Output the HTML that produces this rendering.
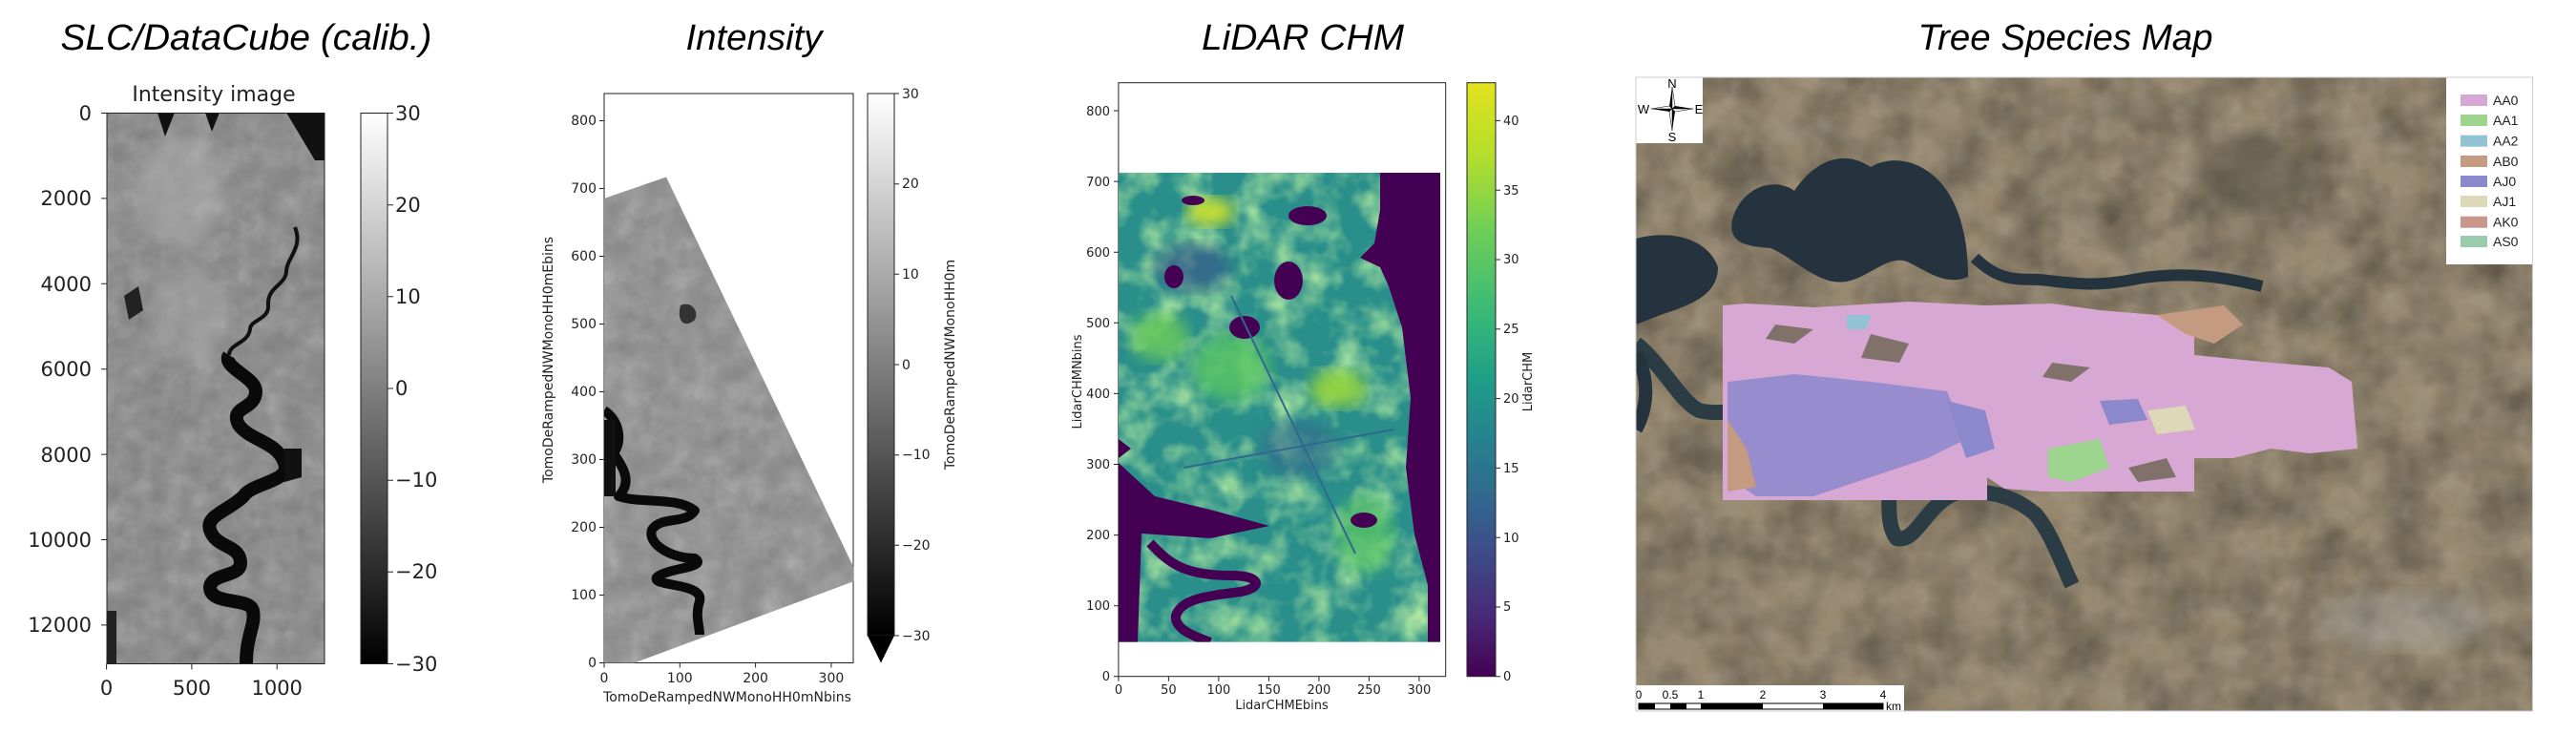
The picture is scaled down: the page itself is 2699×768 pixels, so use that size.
<!DOCTYPE html>
<html><head><meta charset="utf-8"><style>
html,body{margin:0;padding:0;background:#fff;}
svg{display:block;}
.t{font-family:"Liberation Sans Narrow","Liberation Sans",sans-serif;font-style:italic;}
.k{font-family:"DejaVu Sans","Liberation Sans",sans-serif;fill:#222;}
</style></head><body>
<svg width="2699" height="768" viewBox="0 0 2699 768" xmlns="http://www.w3.org/2000/svg">
<defs>
<linearGradient id="gray" x1="0" y1="1" x2="0" y2="0"><stop offset="0" stop-color="#000"/><stop offset="1" stop-color="#fff"/></linearGradient>
<linearGradient id="vir" x1="0" y1="1" x2="0" y2="0">
<stop offset="0" stop-color="#440154"/><stop offset=".1" stop-color="#482878"/><stop offset=".2" stop-color="#3e4989"/><stop offset=".3" stop-color="#31688e"/><stop offset=".4" stop-color="#26828e"/><stop offset=".5" stop-color="#1f9e89"/><stop offset=".6" stop-color="#35b779"/><stop offset=".75" stop-color="#6ece58"/><stop offset=".88" stop-color="#b5de2b"/><stop offset="1" stop-color="#e2e21e"/></linearGradient>
<filter id="n1" x="0" y="0" width="100%" height="100%"><feTurbulence type="fractalNoise" baseFrequency="0.04" numOctaves="3" seed="3"/><feColorMatrix type="saturate" values="0"/><feComponentTransfer><feFuncA type="linear" slope="0.5"/></feComponentTransfer></filter>
<filter id="n2" x="0" y="0" width="100%" height="100%"><feTurbulence type="fractalNoise" baseFrequency="0.02" numOctaves="3" seed="7"/><feColorMatrix type="matrix" values="0 0 0 0 0.1  0 0 0 0 0.08  0 0 0 0 0.05  0 0 0 -1.6 1.1"/></filter>
<filter id="n3" x="0" y="0" width="100%" height="100%"><feTurbulence type="fractalNoise" baseFrequency="0.03" numOctaves="3" seed="11"/><feColorMatrix type="matrix" values="0 0 0 0 0.42  0 0 0 0 0.8  0 0 0 0 0.35  0 0 0 -2 1.2"/></filter>
<filter id="bl"><feGaussianBlur stdDeviation="8"/></filter>
<clipPath id="c1"><rect x="112" y="118.5" width="228" height="577"/></clipPath>
<clipPath id="c2"><polygon points="633,208 698,185.5 894.7,595 894.7,609 664.7,694.5 633,694.5"/></clipPath>
<clipPath id="c3"><rect x="1172" y="181" width="337" height="491.6"/></clipPath>
<clipPath id="c4"><rect x="1714" y="81" width="939.5" height="664"/></clipPath>
</defs>

<text class="t" x="258" y="52" font-size="38" text-anchor="middle" textLength="389" lengthAdjust="spacingAndGlyphs">SLC/DataCube (calib.)</text>
<text class="t" x="790" y="52" font-size="38" text-anchor="middle" textLength="143" lengthAdjust="spacingAndGlyphs">Intensity</text>
<text x="1365" y="52" font-size="38" font-style="italic" font-family="Liberation Sans,sans-serif" text-anchor="middle" textLength="212" lengthAdjust="spacingAndGlyphs">LiDAR CHM</text>
<text class="t" x="2164" y="52" font-size="38" text-anchor="middle" textLength="309" lengthAdjust="spacingAndGlyphs">Tree Species Map</text>

<!-- Panel 1 -->
<text class="k" x="224" y="106" font-size="22" text-anchor="middle">Intensity image</text>
<g clip-path="url(#c1)">
<rect x="112" y="118.5" width="228" height="577" fill="#808080"/>
<rect x="112" y="118.5" width="228" height="577" filter="url(#n1)"/>
<ellipse cx="190" cy="200" rx="45" ry="60" fill="#b0b0b0" opacity=".5" filter="url(#bl)"/>
<ellipse cx="200" cy="330" rx="40" ry="50" fill="#a8a8a8" opacity=".5" filter="url(#bl)"/>
<path d="M165,118 l8,25 l10,-25z M215,118 l7,20 l8,-20z M300,118 l30,50 l10,0 l0,-50z" fill="#111"/>
<path d="M130,310 l15,-10 l5,25 l-15,10z" fill="#222"/>
<path d="M309,238 C318,260 300,270 300,285 C298,300 280,300 281,320 C282,335 262,335 262,345 C260,360 240,360 240,372" fill="none" stroke="#111" stroke-width="4"/>
<path d="M240,372 C232,385 268,395 268,410 C268,430 240,425 250,445 C262,462 290,462 298,485 C306,505 265,505 255,520 C240,535 215,540 220,555 C226,575 252,570 252,590 C252,605 222,600 220,615 C220,635 262,625 265,640 C268,655 258,665 258,695" fill="none" stroke="#0a0a0a" stroke-width="14" stroke-linejoin="round"/>
<path d="M298,470 l18,0 l0,30 l-18,5z" fill="#111"/>
<path d="M112,640 l10,0 l0,55 l-10,0z" fill="#222"/>
</g>
<rect x="112" y="118.5" width="228" height="577" fill="none" stroke="#222" stroke-width="1"/>
<g class="k" font-size="21" text-anchor="end">
<text x="96" y="126">0</text><text x="96" y="215">2000</text><text x="96" y="305">4000</text><text x="96" y="394">6000</text><text x="96" y="484">8000</text><text x="96" y="573">10000</text><text x="96" y="662">12000</text>
</g>
<g stroke="#222"><path d="M112,118.5h-6M112,207.9h-6M112,297.3h-6M112,386.7h-6M112,476.1h-6M112,565.5h-6M112,654.9h-6M111.6,695.5v6M200.9,695.5v6M290.2,695.5v6"/></g>
<g class="k" font-size="21" text-anchor="middle"><text x="111.6" y="728">0</text><text x="200.9" y="728">500</text><text x="290.2" y="728">1000</text></g>
<rect x="378" y="118.5" width="28" height="577" fill="url(#gray)" stroke="#222"/>
<g stroke="#222"><path d="M406,118.5h6M406,214.7h6M406,310.8h6M406,407h6M406,503.2h6M406,599.3h6M406,695.5h6"/></g>
<g class="k" font-size="21"><text x="414" y="126">30</text><text x="414" y="222">20</text><text x="414" y="318">10</text><text x="414" y="414">0</text><text x="414" y="510">−10</text><text x="414" y="606">−20</text><text x="414" y="703">−30</text></g>

<!-- Panel 2 -->
<rect x="633" y="98" width="261" height="596.5" fill="#fff" stroke="#222"/>
<g clip-path="url(#c2)">
<rect x="633" y="180" width="262" height="515" fill="#888"/>
<rect x="633" y="180" width="262" height="515" filter="url(#n1)"/>
<path d="M713,320 c10,-5 20,5 15,15 c-8,8 -20,5 -15,-15z" fill="#333"/>
<path d="M633,430 c15,10 20,30 10,45 c10,15 20,30 5,45 c25,8 60,0 80,15 c-10,15 -35,5 -45,20 c-5,15 20,30 45,30 c15,10 -30,10 -40,20 c-5,10 50,5 45,25 c-5,15 0,25 0,35" fill="none" stroke="#0a0a0a" stroke-width="10" stroke-linejoin="round"/>
<path d="M633,440 l12,0 l0,80 l-12,0z" fill="#111"/>
</g>
<g stroke="#222"><path d="M633,694.5h-5M633,623.5h-5M633,552.5h-5M633,481.5h-5M633,410.5h-5M633,339.5h-5M633,268.5h-5M633,197.5h-5M633,126.5h-5M633,694.5v5M712.3,694.5v5M791.6,694.5v5M870.9,694.5v5"/></g>
<g class="k" font-size="14" text-anchor="end"><text x="625" y="699">0</text><text x="625" y="628">100</text><text x="625" y="557">200</text><text x="625" y="486">300</text><text x="625" y="415">400</text><text x="625" y="344">500</text><text x="625" y="273">600</text><text x="625" y="202">700</text><text x="625" y="131">800</text></g>
<g class="k" font-size="14" text-anchor="middle"><text x="633" y="715">0</text><text x="712.3" y="715">100</text><text x="791.6" y="715">200</text><text x="870.9" y="715">300</text></g>
<text class="k" x="762" y="735" font-size="14" text-anchor="middle">TomoDeRampedNWMonoHH0mNbins</text>
<text class="k" font-size="14" text-anchor="middle" transform="translate(579,377) rotate(-90)">TomoDeRampedNWMonoHH0mEbins</text>
<rect x="909" y="98" width="28" height="568" fill="url(#gray)" stroke="#222"/>
<polygon points="909,666 937,666 923,694.5" fill="#000"/>
<g stroke="#222"><path d="M937,98h5M937,192.7h5M937,287.3h5M937,382h5M937,476.7h5M937,571.3h5M937,666h5"/></g>
<g class="k" font-size="14"><text x="945" y="103">30</text><text x="945" y="197">20</text><text x="945" y="292">10</text><text x="945" y="387">0</text><text x="945" y="481">−10</text><text x="945" y="576">−20</text><text x="945" y="671">−30</text></g>
<text class="k" font-size="14" text-anchor="middle" transform="translate(1000,382) rotate(-90)">TomoDeRampedNWMonoHH0m</text>

<!-- Panel 3 -->
<rect x="1171.9" y="86.7" width="342.8" height="622" fill="#fff" stroke="#222"/>
<g clip-path="url(#c3)">
<rect x="1172" y="181" width="337" height="492" fill="#2a8f8a"/>
<rect x="1172" y="181" width="337" height="492" filter="url(#n3)"/>
<ellipse cx="1268" cy="222" rx="25" ry="15" fill="#c8e030" filter="url(#bl)"/>
<ellipse cx="1215" cy="353" rx="30" ry="25" fill="#6ece58" opacity=".8" filter="url(#bl)"/>
<ellipse cx="1290" cy="385" rx="40" ry="35" fill="#5cc863" opacity=".8" filter="url(#bl)"/>
<ellipse cx="1402" cy="407" rx="30" ry="20" fill="#9ad83c" opacity=".9" filter="url(#bl)"/>
<ellipse cx="1430" cy="560" rx="30" ry="40" fill="#5cc863" opacity=".7" filter="url(#bl)"/>
<ellipse cx="1360" cy="470" rx="40" ry="30" fill="#31688e" opacity=".6" filter="url(#bl)"/>
<ellipse cx="1250" cy="280" rx="40" ry="25" fill="#3e4989" opacity=".5" filter="url(#bl)"/>
<ellipse cx="1304" cy="343" rx="16" ry="12" fill="#440154"/>
<ellipse cx="1350" cy="294" rx="15" ry="20" fill="#440154"/>
<ellipse cx="1429" cy="545" rx="14" ry="8" fill="#440154"/>
<ellipse cx="1250" cy="210" rx="12" ry="5" fill="#440154"/>
<ellipse cx="1370" cy="226" rx="20" ry="10" fill="#440154"/>
<ellipse cx="1230" cy="290" rx="10" ry="12" fill="#440154"/>
<polygon points="1446,181 1509,181 1509,673 1496,673 1496,613 1482,560 1473,490 1478,417 1469,343 1455,300 1446,280 1425,270 1440,255 1446,220" fill="#440154"/>
<polygon points="1172,460 1185,470 1172,480" fill="#440154"/>
<polygon points="1172,485 1210,520 1268,534 1330,551 1268,564 1196,559 1192,673 1172,673" fill="#440154"/>
<path d="M1205,569 C1225,590 1240,603 1290,603 C1320,603 1325,615 1300,620 C1260,625 1238,628 1232,645 C1230,660 1255,668 1268,673" fill="none" stroke="#440154" stroke-width="10"/>
<line x1="1240" y1="490" x2="1460" y2="450" stroke="#31688e" stroke-width="2"/>
<line x1="1290" y1="310" x2="1420" y2="580" stroke="#31688e" stroke-width="2"/>
</g>
<g stroke="#222"><path d="M1172,708.8h-5M1172,634.7h-5M1172,560.6h-5M1172,486.5h-5M1172,412.4h-5M1172,338.3h-5M1172,264.2h-5M1172,190.1h-5M1172,116h-5M1171.9,708.8v5M1224.4,708.8v5M1276.9,708.8v5M1329.4,708.8v5M1381.9,708.8v5M1434.4,708.8v5M1486.9,708.8v5"/></g>
<g class="k" font-size="13" text-anchor="end"><text x="1163" y="713">0</text><text x="1163" y="639">100</text><text x="1163" y="565">200</text><text x="1163" y="491">300</text><text x="1163" y="417">400</text><text x="1163" y="343">500</text><text x="1163" y="269">600</text><text x="1163" y="195">700</text><text x="1163" y="121">800</text></g>
<g class="k" font-size="13" text-anchor="middle"><text x="1172" y="727">0</text><text x="1224.4" y="727">50</text><text x="1276.9" y="727">100</text><text x="1329.4" y="727">150</text><text x="1381.9" y="727">200</text><text x="1434.4" y="727">250</text><text x="1486.9" y="727">300</text></g>
<text class="k" x="1343" y="743" font-size="13" text-anchor="middle">LidarCHMEbins</text>
<text class="k" font-size="13" text-anchor="middle" transform="translate(1133,400) rotate(-90)">LidarCHMNbins</text>
<rect x="1537" y="86.7" width="30" height="622" fill="url(#vir)" stroke="#222"/>
<g stroke="#222"><path d="M1567,708.8h5M1567,636h5M1567,563.2h5M1567,490.4h5M1567,417.6h5M1567,344.8h5M1567,272h5M1567,199.2h5M1567,126.4h5"/></g>
<g class="k" font-size="13"><text x="1575" y="713">0</text><text x="1575" y="640">5</text><text x="1575" y="568">10</text><text x="1575" y="495">15</text><text x="1575" y="422">20</text><text x="1575" y="349">25</text><text x="1575" y="276">30</text><text x="1575" y="204">35</text><text x="1575" y="131">40</text></g>
<text class="k" font-size="13" text-anchor="middle" transform="translate(1605,400) rotate(-90)">LidarCHM</text>

<!-- Panel 4 -->
<g clip-path="url(#c4)">
<rect x="1714" y="81" width="940" height="664" fill="#948469"/>
<rect x="1714" y="81" width="940" height="664" filter="url(#n2)"/>
<rect x="1714" y="81" width="940" height="664" filter="url(#n1)" opacity=".5"/>
<path d="M1815,230 C1825,195 1860,185 1880,200 C1900,170 1930,155 1960,175 C1985,160 2020,170 2040,200 C2060,230 2062,270 2062,290 C2040,300 2020,285 2000,275 C1980,265 1960,290 1935,295 C1905,300 1880,270 1855,260 C1830,258 1810,255 1815,230z" fill="#25333f"/>
<path d="M1714,250 C1750,240 1790,250 1800,280 C1800,310 1770,320 1740,330 L1714,340z" fill="#25333f"/>
<path d="M2069,270 C2100,300 2120,290 2146,294 C2180,298 2200,300 2240,292 C2290,284 2330,290 2370,300" fill="none" stroke="#25333f" stroke-width="12"/>
<path d="M1714,360 C1740,380 1760,420 1780,430 C1820,440 1860,410 1891,431 C1930,460 1920,480 1967,490 C1990,500 1970,540 1987,564 C2010,570 2020,520 2057,515 C2090,515 2110,520 2133,539 C2150,560 2160,590 2171,613" fill="none" stroke="#2c3c44" stroke-width="16" stroke-linejoin="round"/>
<path d="M1714,370 C1730,400 1725,430 1714,450" fill="none" stroke="#25333f" stroke-width="14"/>
<ellipse cx="2360" cy="180" rx="60" ry="40" fill="#3a3a30" opacity=".4" filter="url(#bl)"/>
<ellipse cx="2520" cy="650" rx="90" ry="30" fill="#b0b0b0" opacity=".35" filter="url(#bl)"/>
<path d="M1805,320 L1830,318 L1900,322 L2000,316 L2080,320 L2150,318 L2200,325 L2260,330 L2299,340 L2299,372 L2380,380 L2440,385 L2464,400 L2470,470 L2420,475 L2380,470 L2340,480 L2299,480 L2299,515 L2200,515 L2140,515 L2100,512 L2082,500 L2082,524 L1805,524 Z" fill="#d8a8d4"/>
<path d="M1810,400 L1880,392 L1960,400 L2040,410 L2060,460 L2020,480 L1960,500 L1900,520 L1840,520 L1810,500Z" fill="#8c88cc" opacity=".85"/>
<path d="M2040,420 L2080,430 L2090,470 L2060,480Z" fill="#8c88cc"/>
<path d="M2200,420 L2240,418 L2250,440 L2210,445Z" fill="#8c88cc"/>
<path d="M1810,440 L1830,470 L1840,510 L1810,515Z" fill="#c49a80"/>
<path d="M2260,330 L2330,320 L2350,340 L2320,360 L2290,350Z" fill="#c49a80"/>
<path d="M2146,470 L2200,460 L2210,490 L2170,505 L2146,500Z" fill="#9ed58e"/>
<path d="M2250,430 L2290,425 L2300,450 L2260,455Z" fill="#dcd8b8"/>
<path d="M1935,330 L1960,330 L1955,345 L1935,345Z" fill="#90c4d4"/>
<path d="M1860,340 L1900,345 L1880,360 L1850,355Z" fill="#6c6350" opacity=".8"/>
<path d="M1960,350 L2000,360 L1990,380 L1950,375Z" fill="#6c6350" opacity=".8"/>
<path d="M2150,380 L2190,385 L2170,400 L2140,395Z" fill="#6c6350" opacity=".8"/>
<path d="M2230,490 L2270,480 L2280,500 L2240,505Z" fill="#6c6350" opacity=".8"/>
<rect x="1714" y="81" width="70" height="69" fill="#fff"/>
<path d="M1752,91 L1755,111 L1774,114 L1755,117 L1752,137 L1749,117 L1730,114 L1749,111Z" fill="#000"/>
<path d="M1752,91 L1755,111 L1752,114Z M1774,114 L1755,117 L1752,114Z M1752,137 L1749,117 L1752,114Z M1730,114 L1749,111 L1752,114Z" fill="#fff" stroke="#000" stroke-width=".5"/>
<g font-family="Liberation Sans Narrow,Liberation Sans,sans-serif" font-size="13" text-anchor="middle"><text x="1752" y="92">N</text><text x="1752" y="148">S</text><text x="1722" y="119">W</text><text x="1780" y="119">E</text></g>
<rect x="2563" y="81" width="91" height="196" fill="#fff"/>
<g><rect x="2578" y="99" width="28" height="12" fill="#d8a8d4"/><rect x="2578" y="120" width="28" height="12" fill="#9ed58e"/><rect x="2578" y="141.7" width="28" height="12" fill="#90c4d4"/><rect x="2578" y="163" width="28" height="12" fill="#c49a80"/><rect x="2578" y="184" width="28" height="12" fill="#8c88cc"/><rect x="2578" y="205" width="28" height="12" fill="#dcd8b8"/><rect x="2578" y="226.7" width="28" height="12" fill="#c8948c"/><rect x="2578" y="247" width="28" height="12" fill="#98ccac"/></g>
<g font-family="Liberation Sans Narrow,Liberation Sans,sans-serif" font-size="14" fill="#222"><text x="2612" y="110">AA0</text><text x="2612" y="131">AA1</text><text x="2612" y="152.7">AA2</text><text x="2612" y="174">AB0</text><text x="2612" y="195">AJ0</text><text x="2612" y="216">AJ1</text><text x="2612" y="237.7">AK0</text><text x="2612" y="258">AS0</text></g>
<rect x="1714" y="718" width="281" height="27" fill="#fff"/>
<g font-family="Liberation Sans Narrow,Liberation Sans,sans-serif" font-size="12" text-anchor="middle"><text x="1717" y="732">0</text><text x="1750" y="732">0.5</text><text x="1782" y="732">1</text><text x="1847" y="732">2</text><text x="1910" y="732">3</text><text x="1973" y="732">4</text></g>
<rect x="1717" y="737" width="256" height="6" fill="#fff" stroke="#000" stroke-width="1"/>
<path d="M1717,737h17v6h-17z M1750,737h17v6h-17z M1782,737h65v6h-65z M1910,737h63v6h-63z" fill="#000"/>
<text x="1976" y="744" font-family="Liberation Sans Narrow,Liberation Sans,sans-serif" font-size="12">km</text>
</g>
<rect x="1714" y="81" width="939.5" height="664" fill="none" stroke="#ccc" stroke-width="1"/>
</svg>
</body></html>
